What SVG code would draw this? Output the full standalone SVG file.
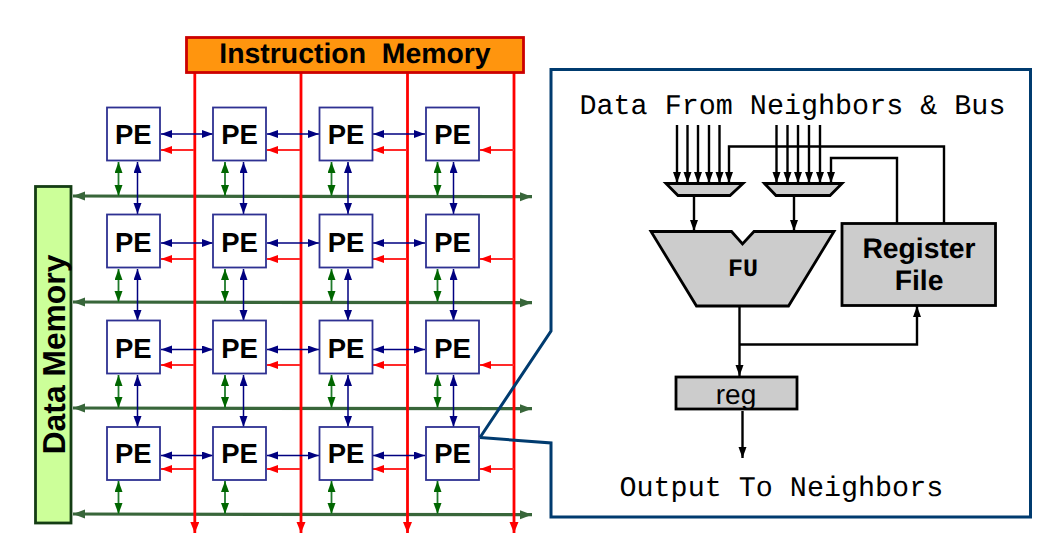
<svg xmlns="http://www.w3.org/2000/svg" width="1055" height="543" viewBox="0 0 1055 543">
<style>
text{font-family:"Liberation Sans",Arial,sans-serif;fill:#000;text-rendering:geometricPrecision}
.pe rect{fill:#fff;stroke:#2e3192;stroke-width:1.800}
.pe text{font-size:27.500px;font-weight:bold;text-anchor:middle}
.mono{font-family:"Liberation Mono","Courier New",monospace;font-size:28.400px}
.b{stroke:#000080;stroke-width:1.500;fill:none;marker-start:url(#ab);marker-end:url(#ab)}
.g{stroke:#1f7a2b;stroke-width:1.800;fill:none;marker-start:url(#ag);marker-end:url(#ag)}
.r{stroke:#ff2a2a;stroke-width:1.800;fill:none;marker-end:url(#ar)}
.v{stroke:#ff0000;stroke-width:2.800;fill:none;marker-end:url(#av)}
.h{stroke:#38663a;stroke-width:3.200;fill:none;marker-start:url(#ah);marker-end:url(#ah)}
.ka{stroke:#000;stroke-width:2.400;fill:none;marker-end:url(#ak)}
.gray{fill:#cccccc;stroke:#000;stroke-width:2.800}
</style>
<defs>
<marker id="ab" markerUnits="userSpaceOnUse" markerWidth="12" markerHeight="9" refX="11" refY="4" orient="auto-start-reverse"><path d="M0 0L11 4L0 8z" fill="#000080"/></marker>
<marker id="ag" markerUnits="userSpaceOnUse" markerWidth="12" markerHeight="9" refX="11" refY="4" orient="auto-start-reverse"><path d="M0 0L11 4L0 8z" fill="#006600"/></marker>
<marker id="ar" markerUnits="userSpaceOnUse" markerWidth="12" markerHeight="9" refX="11" refY="4" orient="auto"><path d="M0 0L11 4L0 8z" fill="#ff0000"/></marker>
<marker id="av" markerUnits="userSpaceOnUse" markerWidth="12" markerHeight="10" refX="11" refY="4.500" orient="auto"><path d="M0 0L11 4.500L0 9z" fill="#ff0000"/></marker>
<marker id="ah" markerUnits="userSpaceOnUse" markerWidth="13" markerHeight="10" refX="12" refY="4.500" orient="auto-start-reverse"><path d="M0 0L12 4.500L0 9z" fill="#38663a"/></marker>
<marker id="ak" markerUnits="userSpaceOnUse" markerWidth="12" markerHeight="9" refX="11" refY="4" orient="auto"><path d="M0 0L11 4L0 8z" fill="#000"/></marker>
</defs>

<g id="connectors">
<line class="h" x1="73" y1="196" x2="532" y2="196.700"/>
<line class="h" x1="73" y1="302" x2="532" y2="302.700"/>
<line class="h" x1="73" y1="408" x2="532" y2="408.700"/>
<line class="h" x1="73" y1="514" x2="532" y2="514.700"/>
<line class="v" x1="194.800" y1="73" x2="194.800" y2="533"/>
<line class="v" x1="301" y1="73" x2="301" y2="533"/>
<line class="v" x1="407.500" y1="73" x2="407.500" y2="533"/>
<line class="v" x1="514" y1="73" x2="514" y2="533"/>

<path class="b" d="M161 134H213"/><path class="b" d="M267 134H319"/><path class="b" d="M373 134H425"/>
<path class="b" d="M161 243H213"/><path class="b" d="M267 243H319"/><path class="b" d="M373 243H425"/>
<path class="b" d="M161 349.500H213"/><path class="b" d="M267 349.500H319"/><path class="b" d="M373 349.500H425"/>
<path class="b" d="M161 455.500H213"/><path class="b" d="M267 455.500H319"/><path class="b" d="M373 455.500H425"/>

<path class="r" d="M194 150H161"/><path class="r" d="M300 150H267"/><path class="r" d="M407 150H373"/><path class="r" d="M514 150H480"/>
<path class="r" d="M194 259H161"/><path class="r" d="M300 259H267"/><path class="r" d="M407 259H373"/><path class="r" d="M514 259H480"/>
<path class="r" d="M194 365H161"/><path class="r" d="M300 365H267"/><path class="r" d="M407 365H373"/><path class="r" d="M514 365H480"/>
<path class="r" d="M194 469H161"/><path class="r" d="M300 469H267"/><path class="r" d="M407 469H373"/><path class="r" d="M514 469H480"/>

<path class="b" d="M137.500 162V214"/><path class="b" d="M243.500 162V214"/><path class="b" d="M348 162V214"/><path class="b" d="M453.500 162V214"/>
<path class="b" d="M137.500 269V321"/><path class="b" d="M243.500 269V321"/><path class="b" d="M348 269V321"/><path class="b" d="M453.500 269V321"/>
<path class="b" d="M137.500 375V427"/><path class="b" d="M243.500 375V427"/><path class="b" d="M348 375V427"/><path class="b" d="M453.500 375V427"/>

<path class="g" d="M118.500 162V196"/><path class="g" d="M225 162V196"/><path class="g" d="M331.500 162V196"/><path class="g" d="M437.500 162V196"/>
<path class="g" d="M118.500 269V302"/><path class="g" d="M225 269V302"/><path class="g" d="M331.500 269V302"/><path class="g" d="M437.500 269V302"/>
<path class="g" d="M118.500 375V408"/><path class="g" d="M225 375V408"/><path class="g" d="M331.500 375V408"/><path class="g" d="M437.500 375V408"/>
<path class="g" d="M118.500 481V514"/><path class="g" d="M225 481V514"/><path class="g" d="M331.500 481V514"/><path class="g" d="M437.500 481V514"/>

<path class="ka" d="M677 125V183"/><path class="ka" d="M687.500 125V183"/><path class="ka" d="M698 125V183"/><path class="ka" d="M709 125V183"/><path class="ka" d="M719.500 125V183"/>
<path class="ka" d="M776.500 125V183"/><path class="ka" d="M787.500 125V183"/><path class="ka" d="M798 125V183"/><path class="ka" d="M809 125V183"/><path class="ka" d="M820 125V183"/>
<path class="ka" d="M944 223V146.500H729V183"/>
<path class="ka" d="M897 223V158H831V183"/>
<path class="ka" d="M694 196V231"/>
<path class="ka" d="M794 196V231"/>
<path class="ka" d="M739.500 306V376"/>
<path class="ka" d="M739.500 344.500H917V306"/>
<path class="ka" d="M742.500 411V458"/>
</g>

<g id="instruction-memory">
<rect x="186.500" y="37.500" width="337" height="35" fill="#ff950e" stroke="#cc0000" stroke-width="2.800"/>
<text x="355" y="63" font-size="28.400" font-weight="bold" text-anchor="middle" xml:space="preserve">Instruction  Memory</text>
</g>
<g id="data-memory">
<rect x="35.500" y="186.500" width="35.500" height="336.500" fill="#ccff99" stroke="#143d14" stroke-width="2.800"/>
<text transform="translate(64.500 354.500) rotate(-90)" font-size="31.800" font-weight="bold" text-anchor="middle">Data Memory</text>
</g>

<g id="pe-1-1" class="pe"><rect x="107" y="107.500" width="53" height="53"/><text x="133.300" y="143.500">PE</text></g>
<g id="pe-1-2" class="pe"><rect x="213" y="107.500" width="53" height="53"/><text x="239.500" y="143.500">PE</text></g>
<g id="pe-1-3" class="pe"><rect x="319.500" y="107.500" width="53" height="53"/><text x="346" y="143.500">PE</text></g>
<g id="pe-1-4" class="pe"><rect x="426" y="107.500" width="53" height="53"/><text x="452.500" y="143.500">PE</text></g>
<g id="pe-2-1" class="pe"><rect x="107" y="214.500" width="53" height="53"/><text x="133.300" y="251.500">PE</text></g>
<g id="pe-2-2" class="pe"><rect x="213" y="214.500" width="53" height="53"/><text x="239.500" y="251.500">PE</text></g>
<g id="pe-2-3" class="pe"><rect x="319.500" y="214.500" width="53" height="53"/><text x="346" y="251.500">PE</text></g>
<g id="pe-2-4" class="pe"><rect x="426" y="214.500" width="53" height="53"/><text x="452.500" y="251.500">PE</text></g>
<g id="pe-3-1" class="pe"><rect x="107" y="320.500" width="53" height="53"/><text x="133.300" y="357.500">PE</text></g>
<g id="pe-3-2" class="pe"><rect x="213" y="320.500" width="53" height="53"/><text x="239.500" y="357.500">PE</text></g>
<g id="pe-3-3" class="pe"><rect x="319.500" y="320.500" width="53" height="53"/><text x="346" y="357.500">PE</text></g>
<g id="pe-3-4" class="pe"><rect x="426" y="320.500" width="53" height="53"/><text x="452.500" y="357.500">PE</text></g>
<g id="pe-4-1" class="pe"><rect x="107" y="427" width="53" height="53"/><text x="133.300" y="463">PE</text></g>
<g id="pe-4-2" class="pe"><rect x="213" y="427" width="53" height="53"/><text x="239.500" y="463">PE</text></g>
<g id="pe-4-3" class="pe"><rect x="319.500" y="427" width="53" height="53"/><text x="346" y="463">PE</text></g>
<g id="pe-4-4" class="pe"><rect x="426" y="427" width="53" height="53"/><text x="452.500" y="463">PE</text></g>

<g id="callout">
<path d="M480 437.500L551 443V517H1030.500V69.500H551V331L480 437.500" fill="none" stroke="#003b6f" stroke-width="3"/>
</g>
<g id="label-in"><text class="mono" x="579.500" y="113.500">Data From Neighbors &amp; Bus</text></g>
<g id="label-out"><text class="mono" x="619.500" y="495.500">Output To Neighbors</text></g>
<g id="mux-1"><path class="gray" d="M666 183.500H743L730 195.500H678z"/></g>
<g id="mux-2"><path class="gray" d="M764.500 183.500H842L830 195.500H776z"/></g>
<g id="fu">
<path class="gray" d="M651 231.500H731.500L742.500 244L754 231.500H834L788.500 306H696.500z"/>
<text x="743" y="276" font-size="25" font-weight="bold" text-anchor="middle" style="font-family:'Liberation Mono',monospace">FU</text>
</g>
<g id="register-file">
<rect class="gray" x="842" y="223.500" width="153.500" height="82"/>
<text x="919" y="258" font-size="28.300" font-weight="bold" text-anchor="middle">Register</text>
<text x="919" y="290" font-size="28.300" font-weight="bold" text-anchor="middle">File</text>
</g>
<g id="reg">
<rect class="gray" x="676" y="377" width="121" height="32"/>
<text x="736" y="404" font-size="28" text-anchor="middle">reg</text>
</g>
</svg>
